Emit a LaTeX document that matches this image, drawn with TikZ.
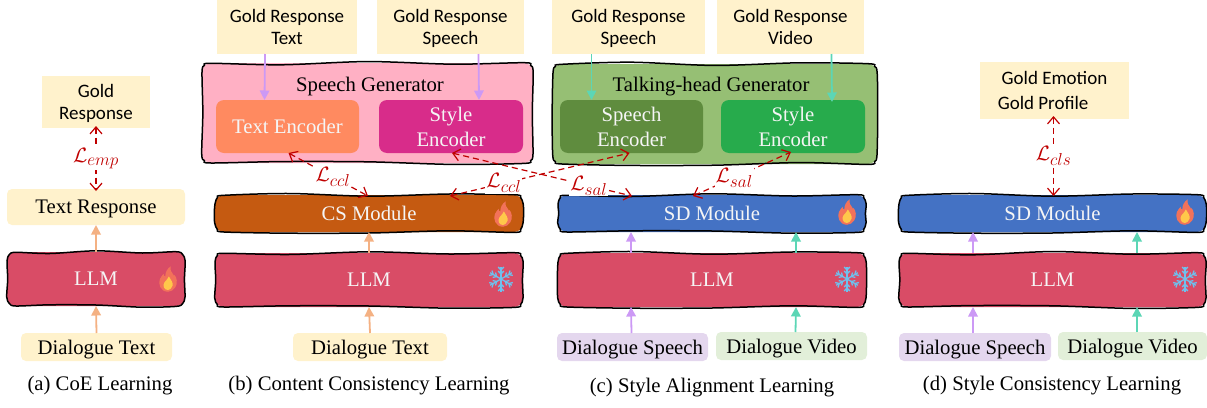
\documentclass[tikz,border=0pt]{standalone}
\usepackage{fontspec}
\setmainfont{Liberation Serif}
\newfontfamily\handfont{Carlito}
\DeclareMathSizes{20.7}{21}{17}{12}
\usetikzlibrary{arrows.meta}
\definecolor{cream}{HTML}{FFF2CC}
\definecolor{llmred}{HTML}{D94C66}
\definecolor{sgpink}{HTML}{FFB0C4}
\definecolor{enctext}{HTML}{FF8A60}
\definecolor{encstyle}{HTML}{D82C8A}
\definecolor{csbrown}{HTML}{C55A11}
\definecolor{sdblue}{HTML}{4472C4}
\definecolor{thgreen}{HTML}{96BF74}
\definecolor{encspeech}{HTML}{5F8C3E}
\definecolor{encstyleg}{HTML}{27AB4C}
\definecolor{dlgspeech}{HTML}{E4D7EE}
\definecolor{dlgvideo}{HTML}{E2EFD9}
\definecolor{arrorange}{HTML}{F4B183}
\definecolor{arrpurple}{HTML}{CC99F5}
\definecolor{arrteal}{HTML}{5CD6B5}
\definecolor{lossred}{HTML}{C00000}
\definecolor{snowblue}{HTML}{6EC1EE}
\definecolor{flameout}{HTML}{F2725A}
\definecolor{flamein}{HTML}{FFC84A}
\newcommand{\boxnode}[7]{%
  \pgfmathsetmacro{\bxcx}{(#3+#5)/2}\pgfmathsetmacro{\bxcy}{(#4+#6)/2}%
  \pgfmathsetmacro{\bxw}{#5-#3}\pgfmathsetmacro{\bxh}{#6-#4}%
  \node[#2,minimum width=\bxw pt,minimum height=\bxh pt] (#1) at (\bxcx,\bxcy) {#7};}
% hand-drawn box: flat fill, wavy outline, then the named node on top
% {name}{style}{fill}{x1}{y1}{x2}{y2}{text}{wave sign}{line width}
\newcommand{\wobnode}[9]{%
  \pgfmathsetmacro{\wa}{#9*1.5}\pgfmathsetmacro{\wb}{#9*-1.2}\pgfmathsetmacro{\wc}{#9*1.0}%
  \pgfmathsetmacro{\wqa}{#4+(#6-#4)*.24}\pgfmathsetmacro{\wqb}{#4+(#6-#4)*.5}\pgfmathsetmacro{\wqc}{#4+(#6-#4)*.76}%
  \pgfmathsetmacro{\wym}{(#5+#7)/2}%
  \fill[#3,rounded corners=9pt] (#4,#5) rectangle (#6,#7);
  \draw[black,line width=1.5pt]
    plot[smooth cycle,tension=.5] coordinates {
      ({#4+9},{#5+.3}) (\wqa,{#5+\wa}) (\wqb,{#5+\wb}) (\wqc,{#5+\wc}) ({#6-9},{#5-.3})
      ({#6-2.4},{#5+2.4}) ({#6+.2},{#5+9}) ({#6-.6*#9},\wym) ({#6},{#7-9}) ({#6-2.4},{#7-2.4})
      ({#6-9},{#7+.4}) (\wqc,{#7-\wb}) (\wqb,{#7-\wc}) (\wqa,{#7+\wb}) ({#4+9},{#7})
      ({#4+2.4},{#7-2.4}) ({#4-.3},{#7-9}) ({#4+.7*#9},\wym) ({#4},{#5+9}) ({#4+2.4},{#5+2.4})};
  \boxnode{#1}{#2}{#4}{#5}{#6}{#7}{#8}}
\newcommand{\flameicon}[2]{%
  \begin{scope}[shift={(#1,#2)},yscale=.85,xscale=.9]
    \fill[flameout] (0,15) .. controls (-9,15) and (-11,5) .. (-9,0) .. controls (-8,-3) and (-6,-4) .. (-5,-6)
      .. controls (-5,-4) and (-4,-3) .. (-3,-3) .. controls (-3,-8) and (-1,-12) .. (3,-15)
      .. controls (2,-10) and (4,-8) .. (6,-5) .. controls (7,-3) and (7,-3) .. (7,-5)
      .. controls (10,-2) and (11,5) .. (8,10) .. controls (6,13) and (3,15) .. (0,15) -- cycle;
    \fill[flamein] (0,13) .. controls (-5,13) and (-6,7) .. (-4,4) .. controls (-2,1) and (0,0) .. (1,-3)
      .. controls (3,1) and (6,4) .. (5,8) .. controls (4,11) and (2,13) .. (0,13) -- cycle;
  \end{scope}}
\newcommand{\snowicon}[2]{%
  \begin{scope}[shift={(#1,#2)},draw=snowblue,line width=1.3pt]
    \foreach \a in {0,60,...,300}{
      \begin{scope}[rotate=\a+30]
        \draw (0,0) -- (12.5,0);
        \draw (5,0) -- (8,2.8) (5,0) -- (8,-2.8);
        \draw (9,0) -- (12,2.8) (9,0) -- (12,-2.8);
      \end{scope}}
  \end{scope}}
\tikzset{
  basebox/.style={inner sep=0pt,outer sep=0pt,align=center,text depth=0pt,font=\fontsize{20.7}{25}\selectfont},
  goldbox/.style={basebox,fill=cream,font=\handfont\fontsize{19}{22}\selectfont},
  softbox/.style={basebox,fill=#1,rounded corners=5pt},
  encbox/.style={basebox,fill=#1,rounded corners=8pt,text=white!96!black},
  wobtext/.style={basebox,text=white!96!black},
  paneltext/.style={basebox,text=black},
  caption/.style={inner sep=0pt,outer sep=0pt,font=\fontsize{20.7}{24}\selectfont},
  flow/.style={draw=#1,line width=1.8pt,-{Triangle[width=9.5pt,length=9.5pt]}},
  loss/.style={draw=lossred,line width=1.2pt,dash pattern=on 6pt off 4pt,
    {Straight Barb[length=7pt,width=12pt]}-{Straight Barb[length=7pt,width=12pt]}},
  losslabel/.style={fill=white,inner sep=1pt,text=lossred,font=\fontsize{20.7}{24}\selectfont},
}
\begin{document}
\begin{tikzpicture}[x=1pt,y=-1pt]
\useasboundingbox (0,0) rectangle (1207,407);
% panel (a)
\boxnode{agold}{goldbox}{42}{76}{150}{128}{Gold\\Response}
\boxnode{aresp}{softbox=cream}{7}{189}{185}{225}{Text Response}
\wobnode{allm}{wobtext}{llmred}{7}{252}{185}{306}{LLM}{1}
\boxnode{adlg}{softbox=cream}{21}{333}{172}{361}{Dialogue Text}
\node[caption] (acap) at (100,386) {(a) CoE Learning};
% panel (b)
\wobnode{bgen}{paneltext}{sgpink}{202}{63}{533}{163}{}{1.2}
\node[basebox] (btitle) at (370,84) {Speech Generator};
\boxnode{bgt}{goldbox}{217}{0}{357}{54}{Gold Response\\Text}
\boxnode{bgs}{goldbox}{377}{0}{524}{54}{Gold Response\\Speech}
\boxnode{bte}{encbox=enctext}{216}{100}{359}{153}{Text Encoder}
\boxnode{bse}{encbox=encstyle}{379}{100}{523}{153}{Style\\Encoder}
\wobnode{bcs}{wobtext}{csbrown}{215}{195}{523}{232}{CS Module}{-1}
\wobnode{bllm}{wobtext}{llmred}{215}{253}{523}{307}{LLM}{1}
\boxnode{bdlg}{softbox=cream}{293}{333}{447}{361}{Dialogue Text}
\node[caption] (bcap) at (369,386) {(b) Content Consistency Learning};
% panel (c)
\wobnode{cgen}{paneltext}{thgreen}{553}{64}{877}{164}{}{-1.2}
\node[basebox] (ctitle) at (711,84) {Talking-head Generator};
\boxnode{cgs}{goldbox}{552}{0}{705}{54}{Gold Response\\Speech}
\boxnode{cgv}{goldbox}{717}{0}{864}{54}{Gold Response\\Video}
\boxnode{cse}{encbox=encspeech}{560}{100}{703}{153}{Speech\\Encoder}
\boxnode{cst}{encbox=encstyleg}{721}{100}{865}{153}{Style\\Encoder}
\wobnode{csd}{wobtext}{sdblue}{558}{195}{866}{232}{SD Module}{1}
\wobnode{cllm}{wobtext}{llmred}{558}{253}{866}{307}{LLM}{-1}
\boxnode{cds}{softbox=dlgspeech}{557}{333}{708}{361}{Dialogue Speech}
\boxnode{cdv}{softbox=dlgvideo}{716}{332}{867}{360}{Dialogue Video}
\node[caption] (ccap) at (712,388) {(c) Style Alignment Learning};
% panel (d)
\boxnode{dgold}{goldbox}{980}{62}{1129}{119}{Gold Emotion\\[3pt]Gold Profile\hspace*{1.2em}}
\wobnode{dsd}{wobtext}{sdblue}{899}{195}{1206}{232}{SD Module}{-1}
\wobnode{dllm}{wobtext}{llmred}{899}{253}{1206}{307}{LLM}{1.2}
\boxnode{dds}{softbox=dlgspeech}{899}{333}{1051}{361}{Dialogue Speech}
\boxnode{ddv}{softbox=dlgvideo}{1058}{332}{1207}{360}{Dialogue Video}
\node[caption] (dcap) at (1052,386) {(d) Style Consistency Learning};
% flow arrows (a)
\draw[flow=arrorange] (adlg.north) -- (allm.south);
\draw[flow=arrorange] (allm.north) -- (aresp.south);
% flow arrows (b)
\draw[flow=arrorange] (bdlg.north) -- (bllm.south);
\draw[flow=arrorange] (bllm.north) -- (bcs.south);
\draw[flow=arrpurple] ([xshift=-22pt]bgt.south) -- ([xshift=-23pt]bte.north);
\draw[flow=arrpurple] ([xshift=28pt]bgs.south) -- ([xshift=28pt]bse.north);
% flow arrows (c)
\draw[flow=arrteal] ([xshift=-37pt]cgs.south) -- ([xshift=-40pt]cse.north);
\draw[flow=arrteal] ([xshift=41pt]cgv.south) -- ([xshift=39pt,yshift=-2pt]cst.north);
\draw[flow=arrpurple] ([xshift=-1pt]cds.north) -- ([xshift=-81pt]cllm.south);
\draw[flow=arrteal] ([xshift=4pt]cdv.north) -- ([xshift=84pt]cllm.south);
\draw[flow=arrpurple] ([xshift=-81pt]cllm.north) -- ([xshift=-81pt]csd.south);
\draw[flow=arrteal] ([xshift=84pt]cllm.north) -- ([xshift=84pt]csd.south);
% flow arrows (d)
\draw[flow=arrpurple] ([xshift=-2pt]dds.north) -- ([xshift=-79.5pt]dllm.south);
\draw[flow=arrteal] ([xshift=4.5pt]ddv.north) -- ([xshift=84.5pt]dllm.south);
\draw[flow=arrpurple] ([xshift=-79.5pt]dllm.north) -- ([xshift=-79.5pt]dsd.south);
\draw[flow=arrteal] ([xshift=84.5pt]dllm.north) -- ([xshift=84.5pt]dsd.south);
% loss arrows
\draw[loss] ([yshift=2pt]agold.south) -- node[losslabel] (la) {$\mathcal{L}_{emp}$} ([yshift=-2pt]aresp.north);
\draw[loss] ([xshift=1pt]bte.south) -- node[losslabel,pos=.56] (lb1) {$\mathcal{L}_{ccl}$} ([xshift=-1pt,yshift=-1pt]bcs.north);
\draw[loss] ([xshift=81pt,yshift=-1pt]bcs.north) -- node[losslabel,pos=.3] (lb2) {$\mathcal{L}_{ccl}$} ([xshift=-2pt]cse.south);
\draw[loss] ([xshift=1pt]bse.south) -- node[losslabel,pos=.76] (lc1) {$\mathcal{L}_{sal}$} ([xshift=-80pt,yshift=-1pt]csd.north);
\draw[loss] ([xshift=-19pt,yshift=-1pt]csd.north) -- node[losslabel,pos=.42] (lc2) {$\mathcal{L}_{sal}$} ([xshift=-2pt,yshift=1pt]cst.south);
\draw[loss] ([yshift=3pt,xshift=-1pt]dgold.south) -- node[losslabel] (ld) {$\mathcal{L}_{cls}$} ([xshift=1pt,yshift=-1pt]dsd.north);
% icons
\flameicon{168}{279}
\flameicon{503}{214}
\snowicon{501}{279}
\flameicon{847}{212}
\snowicon{847}{279}
\flameicon{1185}{212}
\snowicon{1185}{279}
\end{tikzpicture}
\end{document}
